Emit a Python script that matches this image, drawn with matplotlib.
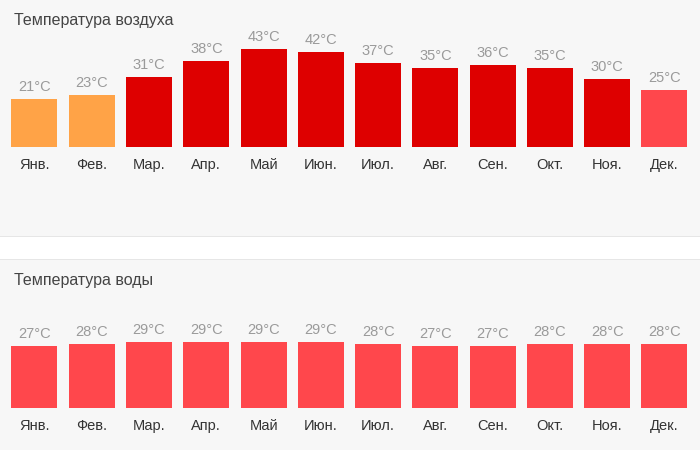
import matplotlib.pyplot as plt
from matplotlib.patches import Rectangle

months = ["Янв.", "Фев.", "Мар.", "Апр.", "Май", "Июн.",
          "Июл.", "Авг.", "Сен.", "Окт.", "Ноя.", "Дек."]
air_temp = [21, 23, 31, 38, 43, 42, 37, 35, 36, 35, 30, 25]
water_temp = [27, 28, 29, 29, 29, 29, 28, 27, 27, 28, 28, 28]

plt.rcParams["font.family"] = ["Liberation Sans", "DejaVu Sans"]

W, H = 700, 450
PX_PER_DEG = 2.27
X0, PITCH = 34.5, 57.27


def bar_color(t):
    if t < 25:
        return "#ffa347"
    if t < 30:
        return "#ff474c"
    return "#de0000"


def draw_panel(fig, top, bottom, baseline, title, values):
    # top/bottom/baseline are pixel rows counted from the top of the image
    ax = fig.add_axes([0, (H - bottom) / H, 1, (bottom - top) / H])
    ax.set_facecolor("#f7f7f7")
    for s in ax.spines.values():
        s.set_visible(False)
    ax.set_xticks([])
    ax.set_yticks([])
    ax.set_xlim(-X0 / PITCH, (W - X0) / PITCH)
    ax.set_ylim(-(bottom - baseline) / PX_PER_DEG, (baseline - top) / PX_PER_DEG)

    x = range(len(values))
    ax.bar(x, values, width=46 / PITCH, color=[bar_color(v) for v in values])
    for i, v in enumerate(values):
        ax.text(i, v + 12 / PX_PER_DEG, f"{v}°C", ha="center", va="center",
                fontsize=10.5, color="#9a9a9a")
        ax.text(i, -18 / PX_PER_DEG, months[i], ha="center", va="center",
                fontsize=10.5, color="#333333")
    ax.text(14 / W, 1 - 20 / (bottom - top), title, transform=ax.transAxes,
            ha="left", va="center", fontsize=11.5, color="#444444")
    return ax


fig = plt.figure(figsize=(7, 4.5), dpi=100)
fig.patch.set_facecolor("white")

draw_panel(fig, 0, 237, 147, "Температура воздуха", air_temp)
draw_panel(fig, 260, 450, 407.7, "Температура воды", water_temp)

# thin borders around the white gap between the panels
for y in (237, 260):
    fig.add_artist(Rectangle((0, (H - y) / H), 1, 1 / H, transform=fig.transFigure,
                             color="#e6e6e6", lw=0))

fig.savefig("out.png", dpi=100)
